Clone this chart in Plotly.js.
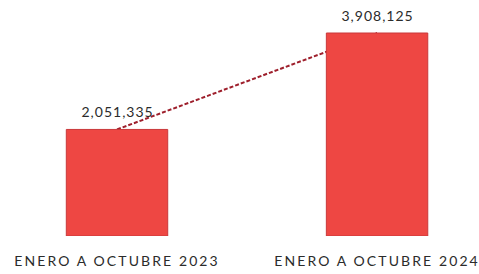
<!DOCTYPE html>
<html><head><meta charset="utf-8">
<script src="https://cdn.plot.ly/plotly-3.0.1.min.js"></script>
<style>
html,body{margin:0;padding:0;background:#fff}
#chart .xtick text{letter-spacing:2.1px}
#chart .annotation-text{letter-spacing:1px}
</style>
</head><body>
<div id="chart" style="width:479px;height:274px"></div>
<script>
const categories = ["ENERO A OCTUBRE 2023", "ENERO A OCTUBRE 2024"];
const values = [2051335, 3908125];
const valueLabels = ["2,051,335", "3,908,125"];

const fontFam = "Lato, 'Open Sans', sans-serif";
const bars = {
  type: "bar",
  x: categories,
  y: values,
  width: 0.39,
  marker: {color: "#EE4743", line: {color: "#C9383A", width: 1}},
  hoverinfo: "skip"
};

const annotations = categories.map((c, i) => ({
  x: c, y: values[i], xref: "x", yref: "y",
  text: valueLabels[i], showarrow: false,
  yanchor: "bottom", yshift: 7,
  font: {family: fontFam, size: 14, color: "#2b2b2b"}
}));

const layout = {
  width: 479, height: 274,
  margin: {l: 0, r: 0, t: 0, b: 38},
  paper_bgcolor: "#fff", plot_bgcolor: "#fff",
  showlegend: false,
  xaxis: {type: "category", range: [-0.45, 1.392], showgrid: false, zeroline: false,
          showline: false, ticks: "", ticklabelstandoff: 15,
          tickfont: {family: fontFam, size: 14, color: "#2b2b2b"}},
  yaxis: {range: [0, 4543441], visible: false},
  annotations: annotations,
  shapes: [{
    type: "line", layer: "below", xref: "x", yref: "y",
    x0: categories[0], y0: values[0], x1: categories[1], y1: values[1],
    line: {color: "#9E1F2C", width: 2, dash: "4px,2px"}
  }]
};

Plotly.newPlot("chart", [bars], layout, {staticPlot: true, displayModeBar: false});
</script>
</body></html>
